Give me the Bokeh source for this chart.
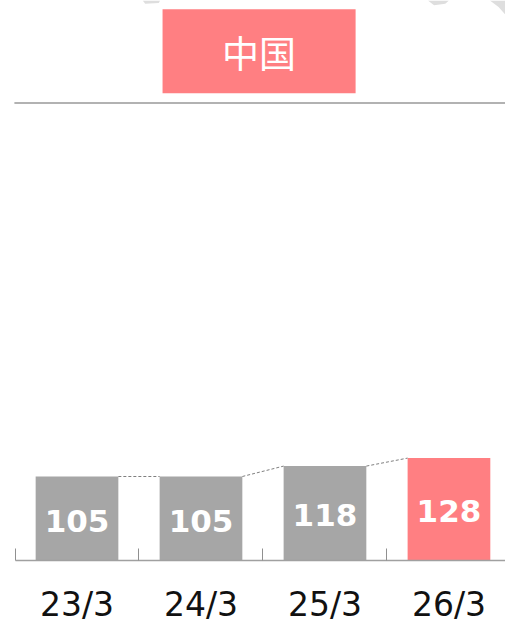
from bokeh.embed import file_html
from bokeh.resources import INLINE
from bokeh.plotting import figure
from bokeh.models import Range1d, FixedTicker, ColumnDataSource
from bokeh.core.properties import value

categories = ["23/3", "24/3", "25/3", "26/3"]
values = [105, 105, 118, 128]
bar_colors = ["#A6A6A6", "#A6A6A6", "#A6A6A6", "#FF7F82"]
title_text = "中国"

positions = list(range(len(categories)))
BAR_W = 0.667

p = figure(width=505, height=624, output_backend="svg", toolbar_location=None,
           x_range=Range1d(-0.617, 3.456), y_range=Range1d(-80, 700),
           min_border_left=0, min_border_right=0, min_border_top=0, min_border_bottom=0,
           outline_line_color=None, background_fill_color="white", border_fill_color="white")
p.grid.visible = False
p.yaxis.visible = False

ax = p.xaxis[0]
ax.fixed_location = 0
ax.ticker = FixedTicker(ticks=positions, minor_ticks=[-0.5, 0.5, 1.5, 2.5])
ax.major_label_overrides = dict(zip(positions, categories))
ax.bounds = (-0.5, 3.456)
ax.axis_line_color = "#A0A0A0"
ax.axis_line_width = 1.5
ax.major_tick_line_color = None
ax.major_tick_in = 0
ax.major_tick_out = 0
ax.minor_tick_line_color = "#909090"
ax.minor_tick_line_width = 1
ax.minor_tick_in = 12
ax.minor_tick_out = 0
ax.major_label_text_font = "DejaVu Sans"
ax.major_label_text_font_size = "33px"
ax.major_label_text_color = "#111111"
ax.major_label_standoff = 24

src = ColumnDataSource(dict(x=positions, top=values, color=bar_colors,
                            mid=[v / 2 for v in values], lab=[str(v) for v in values]))
p.vbar(x="x", top="top", bottom=0, width=BAR_W, fill_color="color", line_color=None, source=src)
p.segment(x0=[x + BAR_W / 2 for x in positions[:-1]], y0=values[:-1],
          x1=[x - BAR_W / 2 for x in positions[1:]], y1=values[1:],
          line_color="#7F7F7F", line_width=1, line_dash="3 2")
p.text(x="x", y="mid", text="lab", source=src, text_color="white", text_font=value("DejaVu Sans"),
       text_font_style="bold", text_font_size="31px", text_align="center", text_baseline="middle",
       y_offset=2)

# header rule and header box
p.segment(x0=[-0.505], y0=[572], x1=[3.456], y1=[572], line_color="#999999", line_width=1.5)
p.quad(left=[0.69], right=[2.247], bottom=[584], top=[689], fill_color="#FF7F82", line_color=None)
p.text(x=[1.468], y=[636], text=[title_text], text_color="white", text_font=value("Noto Sans CJK JP"),
       text_font_size="37px", text_align="center", text_baseline="middle")

# faint map fragments cropped by the top edge
p.patches(xs=[[0.53, 0.67, 0.66, 0.55], [2.83, 3.0, 2.97, 2.88], [3.33, 3.456, 3.456, 3.40]],
          ys=[[700, 700, 697, 696], [700, 700, 696, 694], [700, 700, 682, 692]],
          fill_color="#DEDEDE", line_color=None)

open("out.html", "w").write(file_html(p, INLINE))
